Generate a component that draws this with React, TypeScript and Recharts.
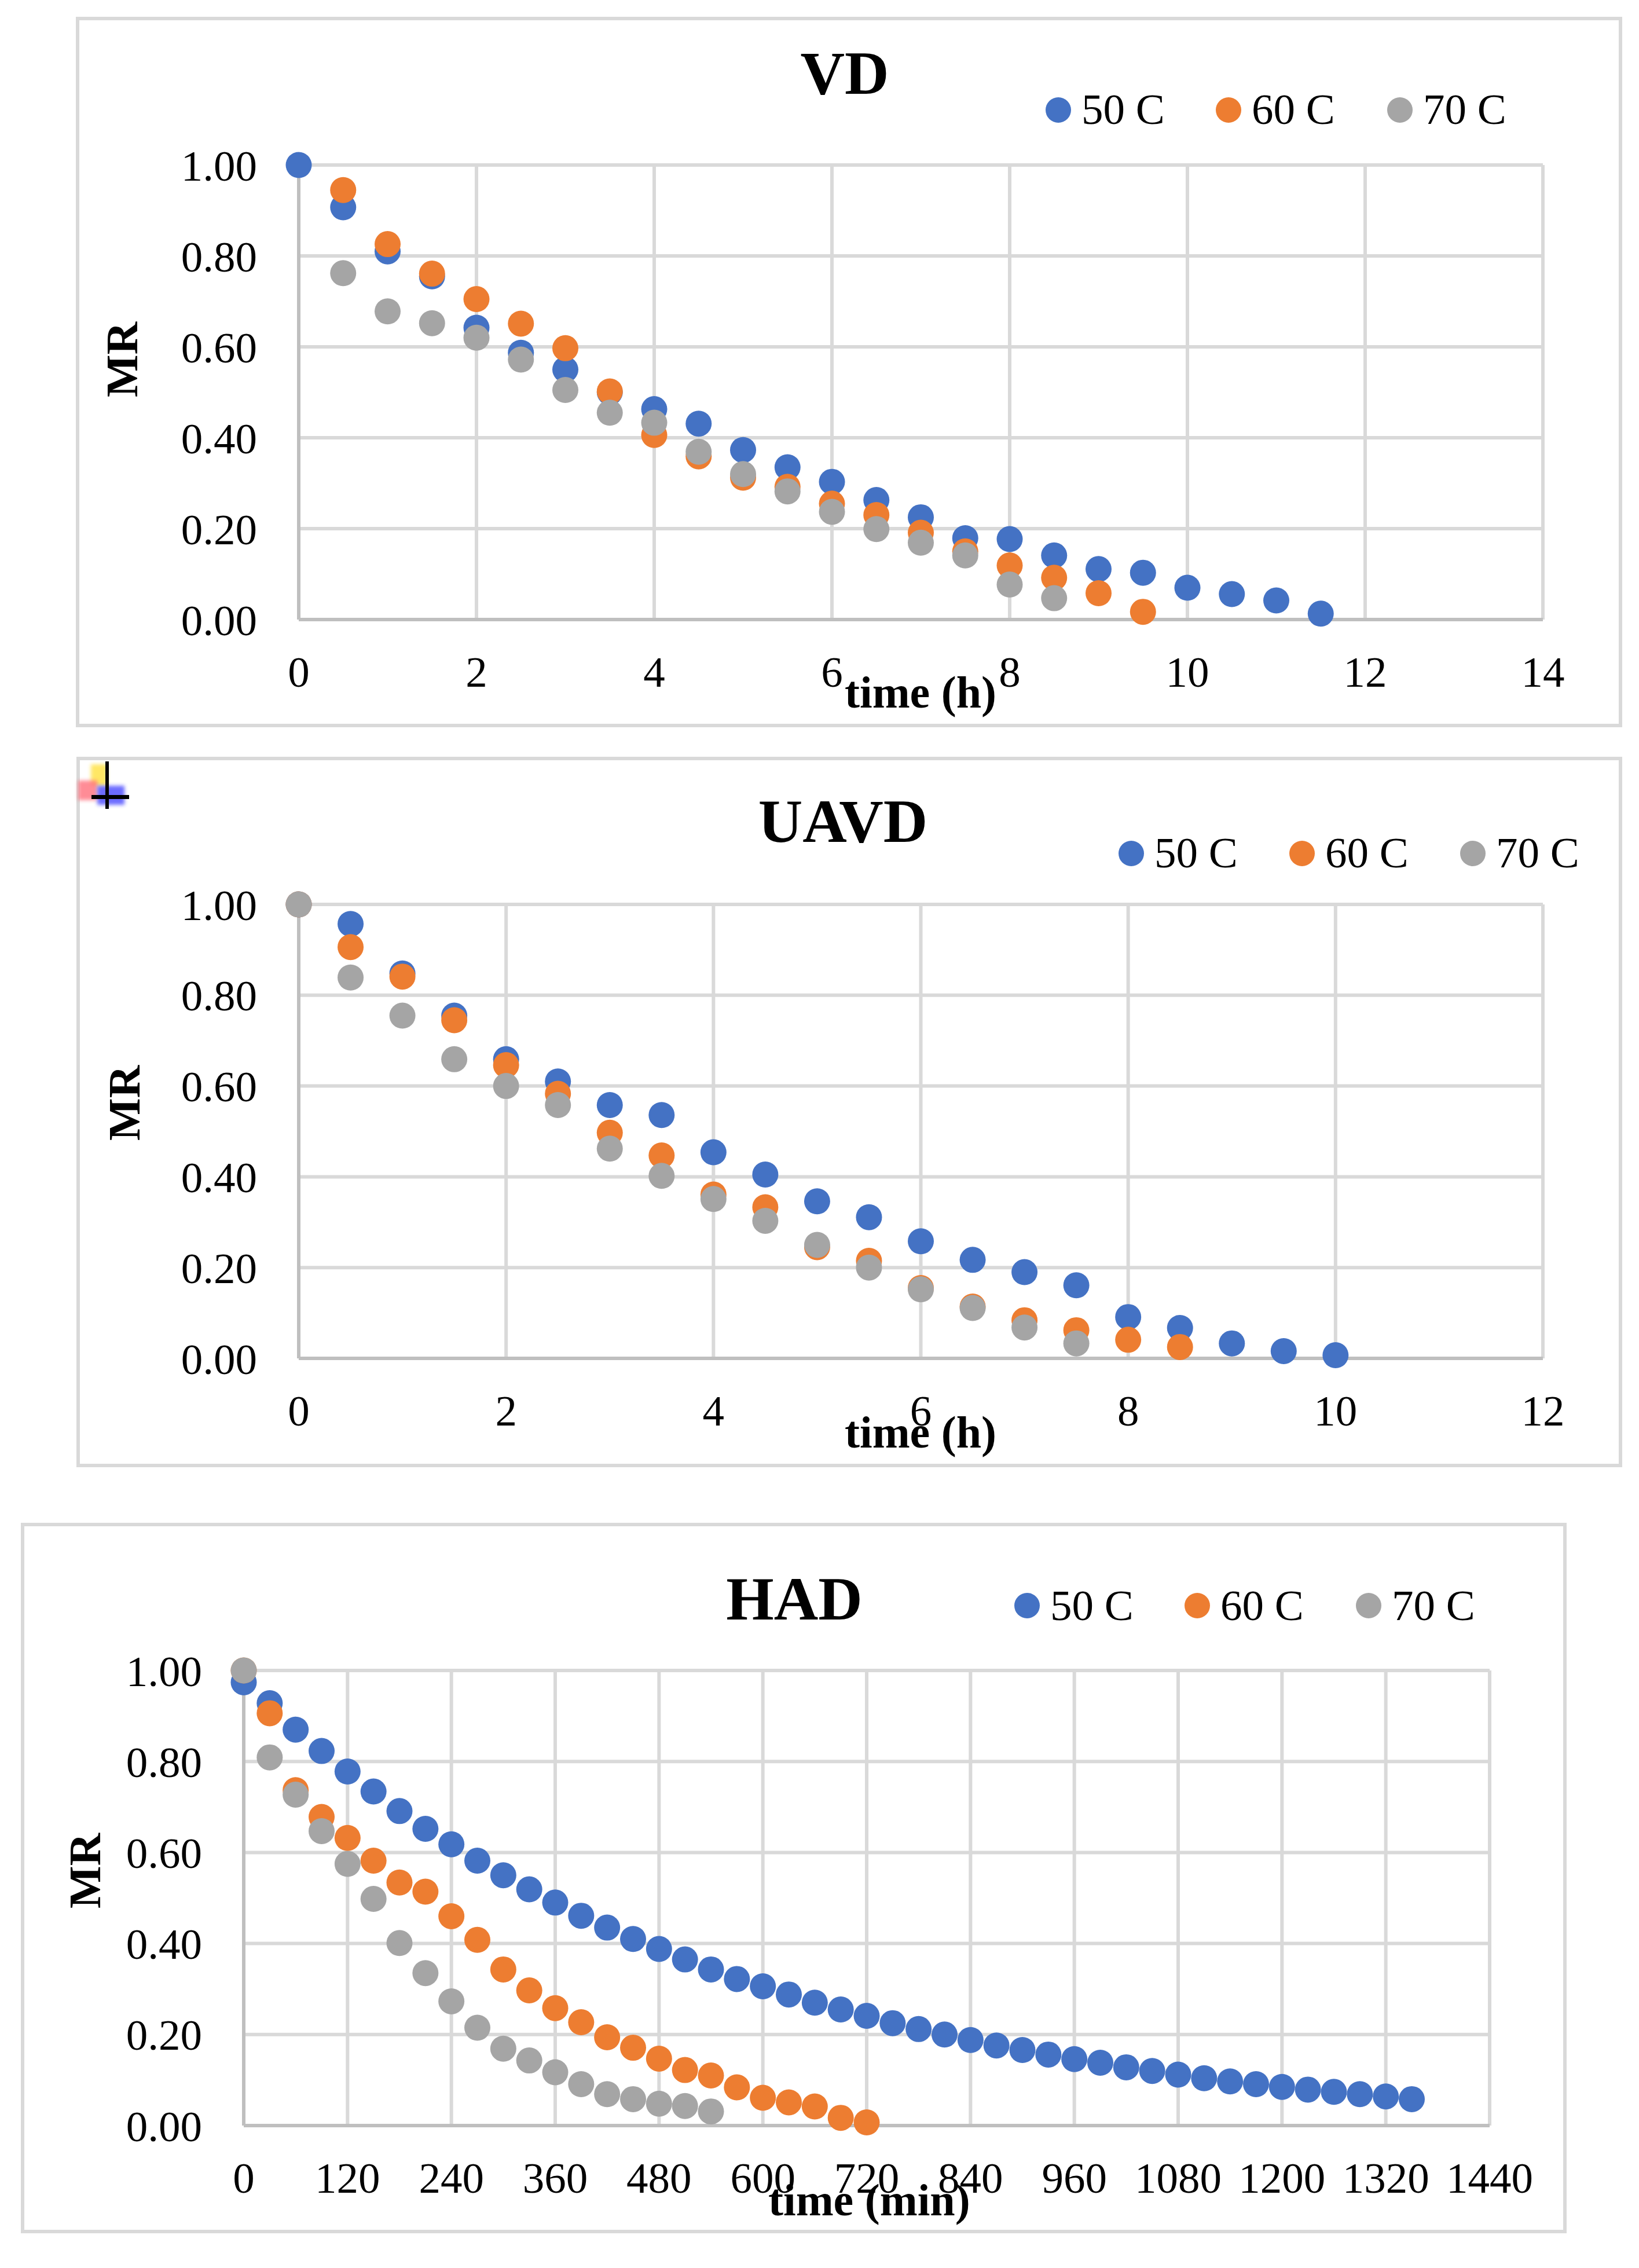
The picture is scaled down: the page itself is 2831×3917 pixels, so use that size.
import React from 'react';
import { ScatterChart, Scatter, XAxis, YAxis, CartesianGrid } from 'recharts';

const SERIES_NAMES = ['50 C', '60 C', '70 C'];
const COLORS = ['#4472C4', '#ED7D31', '#A5A5A5'];
const MR_TICKS = [0, 0.2, 0.4, 0.6, 0.8, 1.0];

// ---- VD ----
const vdTicks = [0, 2, 4, 6, 8, 10, 12, 14];
const vdTime50 = [0, 0.5, 1, 1.5, 2, 2.5, 3, 3.5, 4, 4.5, 5, 5.5, 6, 6.5, 7, 7.5, 8, 8.5, 9, 9.5, 10, 10.5, 11, 11.5];
const vdMR50 = [1.0, 0.907, 0.81, 0.755, 0.642, 0.587, 0.55, 0.5, 0.463, 0.431, 0.373, 0.335, 0.303, 0.263, 0.225, 0.179, 0.177, 0.141, 0.111, 0.103, 0.07, 0.056, 0.042, 0.013];
const vdTime60 = [0.5, 1, 1.5, 2, 2.5, 3, 3.5, 4, 4.5, 5, 5.5, 6, 6.5, 7, 7.5, 8, 8.5, 9, 9.5];
const vdMR60 = [0.945, 0.826, 0.761, 0.705, 0.651, 0.597, 0.502, 0.406, 0.359, 0.312, 0.292, 0.255, 0.23, 0.191, 0.15, 0.119, 0.092, 0.058, 0.017];
const vdTime70 = [0.5, 1, 1.5, 2, 2.5, 3, 3.5, 4, 4.5, 5, 5.5, 6, 6.5, 7, 7.5, 8, 8.5];
const vdMR70 = [0.762, 0.678, 0.652, 0.62, 0.572, 0.505, 0.455, 0.433, 0.369, 0.32, 0.282, 0.237, 0.199, 0.169, 0.141, 0.077, 0.047];

// ---- UAVD ----
const uavdTicks = [0, 2, 4, 6, 8, 10, 12];
const uavdTime50 = [0, 0.5, 1, 1.5, 2, 2.5, 3, 3.5, 4, 4.5, 5, 5.5, 6, 6.5, 7, 7.5, 8, 8.5, 9, 9.5, 10];
const uavdMR50 = [1.0, 0.957, 0.848, 0.755, 0.659, 0.61, 0.558, 0.536, 0.454, 0.405, 0.346, 0.311, 0.258, 0.217, 0.19, 0.161, 0.091, 0.067, 0.033, 0.016, 0.007];
const uavdTime60 = [0, 0.5, 1, 1.5, 2, 2.5, 3, 3.5, 4, 4.5, 5, 5.5, 6, 6.5, 7, 7.5, 8, 8.5];
const uavdMR60 = [1.0, 0.906, 0.841, 0.745, 0.646, 0.583, 0.497, 0.447, 0.361, 0.333, 0.245, 0.215, 0.155, 0.114, 0.084, 0.062, 0.041, 0.025];
const uavdTime70 = [0, 0.5, 1, 1.5, 2, 2.5, 3, 3.5, 4, 4.5, 5, 5.5, 6, 6.5, 7, 7.5];
const uavdMR70 = [1.0, 0.839, 0.755, 0.659, 0.6, 0.558, 0.462, 0.402, 0.351, 0.303, 0.25, 0.2, 0.152, 0.111, 0.068, 0.033];

// ---- HAD ----
const hadTicks = [0, 120, 240, 360, 480, 600, 720, 840, 960, 1080, 1200, 1320, 1440];
const hadTime50 = [0, 30, 60, 90, 120, 150, 180, 210, 240, 270, 300, 330, 360, 390, 420, 450, 480, 510, 540, 570, 600, 630, 660, 690, 720, 750, 780, 810, 840, 870, 900, 930, 960, 990, 1020, 1050, 1080, 1110, 1140, 1170, 1200, 1230, 1260, 1290, 1320, 1350];
const hadMR50 = [0.974, 0.928, 0.87, 0.823, 0.778, 0.734, 0.691, 0.652, 0.618, 0.582, 0.55, 0.519, 0.49, 0.461, 0.435, 0.41, 0.388, 0.365, 0.343, 0.322, 0.306, 0.288, 0.27, 0.255, 0.241, 0.225, 0.212, 0.2, 0.188, 0.176, 0.166, 0.156, 0.146, 0.138, 0.128, 0.12, 0.112, 0.104, 0.097, 0.091, 0.085, 0.079, 0.074, 0.069, 0.064, 0.058];
const hadTime60 = [0, 30, 60, 90, 120, 150, 180, 210, 240, 270, 300, 330, 360, 390, 420, 450, 480, 510, 540, 570, 600, 630, 660, 690, 720];
const hadMR60 = [1.0, 0.906, 0.737, 0.678, 0.632, 0.582, 0.534, 0.514, 0.46, 0.408, 0.343, 0.297, 0.258, 0.227, 0.194, 0.171, 0.147, 0.122, 0.11, 0.084, 0.061, 0.051, 0.042, 0.017, 0.007];
const hadTime70 = [0, 30, 60, 90, 120, 150, 180, 210, 240, 270, 300, 330, 360, 390, 420, 450, 480, 510, 540];
const hadMR70 = [1.0, 0.809, 0.727, 0.647, 0.575, 0.498, 0.401, 0.335, 0.273, 0.215, 0.169, 0.143, 0.117, 0.091, 0.069, 0.058, 0.048, 0.043, 0.031];

const zip = (xs: number[], ys: number[]) => xs.map((x, i) => ({ x, y: ys[i] }));

const FONT = "'Liberation Serif', 'Times New Roman', serif";

type PanelCfg = {
  box: { l: number; t: number; r: number; b: number };
  plot: { l: number; t: number; r: number; b: number };
  xTicks: number[];
  series: { x: number; y: number }[][];
  title: string;
  titleX: number;
  titleY: number;
  legendX: number[];
  legendY: number;
  legendBase: number;
  mrX: number;
  mrY: number;
  xLabel: string;
  xLabelX: number;
  xLabelY: number;
};

const panels: PanelCfg[] = [
  {
    box: { l: 134, t: 32, r: 2799, b: 1253 },
    plot: { l: 516, t: 285, r: 2665, b: 1070 },
    xTicks: vdTicks,
    series: [zip(vdTime50, vdMR50), zip(vdTime60, vdMR60), zip(vdTime70, vdMR70)],
    title: 'VD', titleX: 1459, titleY: 162,
    legendX: [1828, 2122, 2418], legendY: 190, legendBase: 214,
    mrX: 210, mrY: 621,
    xLabel: 'time (h)', xLabelX: 1459, xLabelY: 1222,
  },
  {
    box: { l: 135, t: 1310, r: 2799, b: 2531 },
    plot: { l: 516, t: 1562, r: 2665, b: 2346 },
    xTicks: uavdTicks,
    series: [zip(uavdTime50, uavdMR50), zip(uavdTime60, uavdMR60), zip(uavdTime70, uavdMR70)],
    title: 'UAVD', titleX: 1456, titleY: 1454,
    legendX: [1954, 2249, 2544], legendY: 1474, legendBase: 1498,
    mrX: 214, mrY: 1905,
    xLabel: 'time (h)', xLabelX: 1459, xLabelY: 2500,
  },
  {
    box: { l: 39, t: 2633, r: 2703, b: 3854 },
    plot: { l: 421, t: 2885, r: 2573, b: 3671 },
    xTicks: hadTicks,
    series: [zip(hadTime50, hadMR50), zip(hadTime60, hadMR60), zip(hadTime70, hadMR70)],
    title: 'HAD', titleX: 1372, titleY: 2797,
    legendX: [1774, 2068, 2364], legendY: 2773, legendBase: 2798,
    mrX: 146, mrY: 3231,
    xLabel: 'time (min)', xLabelX: 1327, xLabelY: 3826,
  },
];

const Y_AXIS_W = 250;
const X_AXIS_H = 120;

function Panel({ cfg }: { cfg: PanelCfg }) {
  const { box, plot, xTicks, series } = cfg;
  const W = box.r - box.l;
  const H = box.b - box.t;
  const margin = {
    top: plot.t - box.t,
    right: box.r - plot.r,
    bottom: box.b - plot.b - X_AXIS_H,
    left: plot.l - box.l - Y_AXIS_W,
  };
  const tickStyle = { fill: '#000', fontSize: 75, fontFamily: FONT };
  return (
    <div style={{ position: 'absolute', left: box.l, top: box.t, width: W, height: H }}>
      <ScatterChart width={W} height={H} margin={margin}>
        <CartesianGrid stroke="#d9d9d9" strokeWidth={6} />
        <XAxis
          type="number"
          dataKey="x"
          domain={[xTicks[0], xTicks[xTicks.length - 1]]}
          ticks={xTicks}
          interval={0}
          height={X_AXIS_H}
          tickLine={false}
          tickSize={0}
          tickMargin={63}
          axisLine={{ stroke: '#bfbfbf', strokeWidth: 6 }}
          tick={tickStyle}
        />
        <YAxis
          type="number"
          dataKey="y"
          domain={[0, 1]}
          ticks={MR_TICKS}
          interval={0}
          width={Y_AXIS_W}
          tickLine={false}
          tickSize={0}
          tickMargin={72}
          axisLine={{ stroke: '#bfbfbf', strokeWidth: 6 }}
          tick={tickStyle}
          tickFormatter={(v: number) => v.toFixed(2)}
        />
        {series.map((d, i) => (
          <Scatter
            key={i}
            name={SERIES_NAMES[i]}
            data={d}
            fill={COLORS[i]}
            isAnimationActive={false}
            shape={(p: any) => <circle cx={p.cx} cy={p.cy} r={22.5} fill={COLORS[i]} />}
          />
        ))}
      </ScatterChart>
    </div>
  );
}

function Overlay() {
  return (
    <svg
      width={2831}
      height={3917}
      style={{ position: 'absolute', left: 0, top: 0, pointerEvents: 'none' }}
    >
      <defs>
        <filter id="blur3" x="-50%" y="-50%" width="200%" height="200%">
          <feGaussianBlur stdDeviation="3" />
        </filter>
      </defs>
      {panels.map((p, k) => (
        <g key={k} fontFamily={FONT}>
          <rect
            x={p.box.l}
            y={p.box.t}
            width={p.box.r - p.box.l}
            height={p.box.b - p.box.t}
            fill="none"
            stroke="#d9d9d9"
            strokeWidth={6}
          />
          <text x={p.titleX} y={p.titleY} textAnchor="middle" fontWeight="bold" fontSize={106} fill="#000">
            {p.title}
          </text>
          {SERIES_NAMES.map((n, i) => (
            <g key={n}>
              <circle cx={p.legendX[i]} cy={p.legendY} r={22} fill={COLORS[i]} />
              <text x={p.legendX[i] + 40} y={p.legendBase} fontSize={75} fill="#000">
                {n}
              </text>
            </g>
          ))}
          <text
            transform={`translate(${p.mrX}, ${p.mrY}) rotate(-90)`}
            textAnchor="middle"
            dy="0.35em"
            fontWeight="bold"
            fontSize={78}
            fill="#000"
          >
            MR
          </text>
          <text x={p.xLabelX} y={p.xLabelY} fontWeight="bold" fontSize={78} fill="#000">
            {p.xLabel}
          </text>
        </g>
      ))}
      {/* small embedded-object icon in UAVD panel */}
      <g>
        <rect x={157} y={1320} width={28} height={37} fill="#ffe34a" opacity={0.85} filter="url(#blur3)" />
        <rect x={135} y={1348} width={33} height={34} fill="#ff6f7d" opacity={0.8} filter="url(#blur3)" />
        <rect x={168} y={1357} width={47} height={33} fill="#3a3aff" opacity={0.75} filter="url(#blur3)" />
        <rect x={182} y={1315} width={6} height={82} fill="#000" />
        <rect x={158} y={1373} width={65} height={7} fill="#000" />
      </g>
    </svg>
  );
}

export default function App() {
  return (
    <div style={{ position: 'absolute', left: 0, top: 0, width: 2831, height: 3917, background: '#fff' }}>
      {panels.map((p, i) => (
        <Panel key={i} cfg={p} />
      ))}
      <Overlay />
    </div>
  );
}
